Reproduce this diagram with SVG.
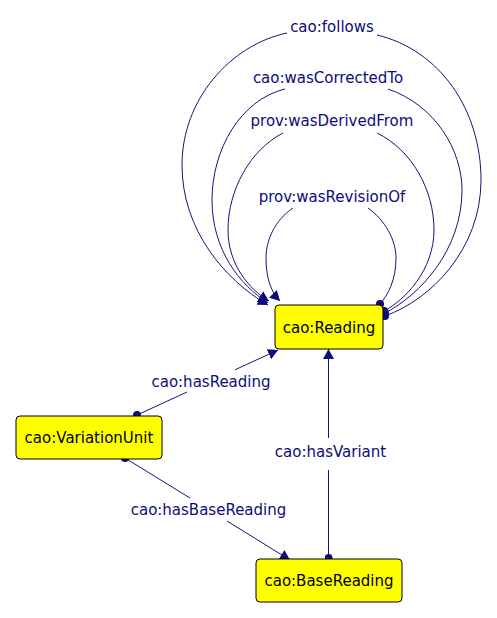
<svg xmlns="http://www.w3.org/2000/svg" width="497" height="618" viewBox="0 0 497 618">
<style>
.node rect{fill:#ffff00;stroke:#000;stroke-width:1}
.node text{font-family:"DejaVu Sans",Verdana,sans-serif;font-size:15px;fill:#000;text-anchor:middle}
.edge{fill:none;stroke:#14147a;stroke-width:1}
.lbl{font-family:"DejaVu Sans",Verdana,sans-serif;font-size:15px;fill:#0c0c7c;text-anchor:middle}
</style>
<defs>
<marker id="arrow" viewBox="0 0 10 11" refX="10" refY="5.5" markerWidth="10" markerHeight="11" orient="auto" markerUnits="userSpaceOnUse"><path d="M0,0 L10,5.5 L0,11 z" fill="#0c0c7c"/></marker>
<marker id="dot" viewBox="0 0 8 8" refX="4" refY="4" markerWidth="8" markerHeight="8" markerUnits="userSpaceOnUse"><circle cx="4" cy="4" r="4" fill="#0c0c7c"/></marker>
</defs>
<g id="connectors">
<path class="edge" marker-end="url(#arrow)" d="M287,33 C230,45 182,100 182,165 C182,230 225,280 268,305"/>
<path class="edge" marker-start="url(#dot)" d="M385,316 C430,300 481,250 481,180 C481,110 440,50 377,35"/>
<path class="edge" marker-end="url(#arrow)" d="M285,89 C240,100 212,150 212,200 C212,250 240,285 268,303"/>
<path class="edge" marker-start="url(#dot)" d="M385,313 C420,295 462,250 462,190 C462,150 435,105 388,89"/>
<path class="edge" marker-end="url(#arrow)" d="M283,133 C250,150 228,190 228,230 C228,265 250,290 269,301"/>
<path class="edge" marker-start="url(#dot)" d="M384,311 C405,300 434,270 434,230 C434,190 412,150 377,133"/>
<path class="edge" marker-end="url(#arrow)" d="M293,208 C275,220 266,240 266,258 C266,280 272,293 280,301"/>
<path class="edge" marker-start="url(#dot)" d="M380,304 C388,295 396,280 396,258 C396,240 385,220 368,208"/>
<path class="edge" marker-start="url(#dot)" marker-end="url(#arrow)" d="M137,415 L187,392 M235,369.8 L278,350"/>
<path class="edge" marker-start="url(#dot)" marker-end="url(#arrow)" d="M125,458 L190,498 M227,521 L290,560"/>
<path class="edge" marker-start="url(#dot)" marker-end="url(#arrow)" d="M328.5,558 L328.5,470 M328.5,438 L328.5,349"/>
<text class="lbl" x="332" y="32">cao:follows</text>
<text class="lbl" x="328" y="83">cao:wasCorrectedTo</text>
<text class="lbl" x="332" y="126">prov:wasDerivedFrom</text>
<text class="lbl" x="332" y="202">prov:wasRevisionOf</text>
<text class="lbl" x="211" y="387">cao:hasReading</text>
<text class="lbl" x="208.5" y="515">cao:hasBaseReading</text>
<text class="lbl" x="330.5" y="457">cao:hasVariant</text>
</g>
<g id="reading" class="node"><rect x="275" y="305" width="108" height="44" rx="4"/><text x="329" y="332.5">cao:Reading</text></g>
<g id="variationunit" class="node"><rect x="16" y="416" width="146" height="43" rx="4"/><text x="89" y="443">cao:VariationUnit</text></g>
<g id="basereading" class="node"><rect x="256" y="559" width="146" height="43" rx="4"/><text x="329" y="586">cao:BaseReading</text></g>
</svg>
